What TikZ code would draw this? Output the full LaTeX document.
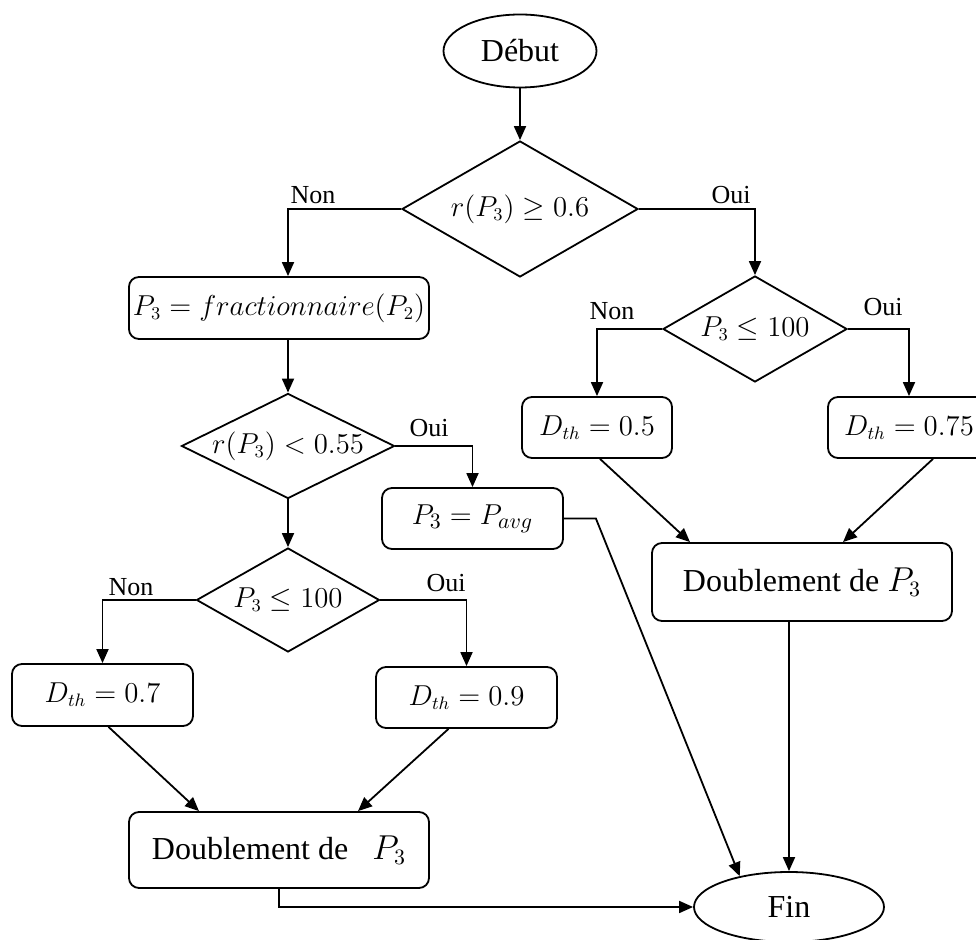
\documentclass[tikz,border=0pt]{standalone}
\usepackage{fontspec}
\setmainfont{Liberation Serif}
\usetikzlibrary{shapes.geometric,arrows.meta}

\begin{document}
\begin{tikzpicture}[x=0.5pt, y=-0.5pt,
    boite/.style={rectangle, rounded corners=5pt, draw, line width=0.9pt, inner sep=2pt, font=\fontsize{13.5}{16}\selectfont},
    grand/.style={font=\fontsize{16}{19}\selectfont},
    test/.style={diamond, aspect=2, draw, line width=0.9pt, inner sep=0pt, font=\fontsize{13.5}{16}\selectfont},
    borne/.style={ellipse, draw, line width=0.9pt, inner sep=0pt, font=\fontsize{16}{19}\selectfont},
    choix/.style={inner sep=0pt, font=\fontsize{13}{15}\selectfont},
    fleche/.style={-{Triangle[length=7pt,width=6pt]}, line width=0.9pt}]
    \useasboundingbox (0,0) rectangle (976,940);

    \node[borne, minimum width=76.5pt, minimum height=36.5pt] (debut) at (520,51) {Début};
    \node[test, minimum width=118pt, minimum height=68pt] (t1) at (520,209) {$r(P_3) \geq 0.6$};
    \node[boite, minimum width=147pt, minimum height=31pt] (frac) at (279,308) {$P_3 = fractionnaire(P_2)$};
    \node[test, minimum width=106.5pt, minimum height=52.5pt] (t3) at (288,446) {$r(P_3) < 0.55$};
    \node[boite, minimum width=90.5pt, minimum height=30.5pt, font=\fontsize{15}{18}\selectfont] (pavg) at (472.5,518.5) {$P_3 = P_{avg}$};
    \node[test, minimum width=91.5pt, minimum height=52pt] (t4) at (288,600) {$P_3 \leq 100$};
    \node[boite, minimum width=90.5pt, minimum height=31pt] (d07) at (102.5,695) {$D_{th} = 0.7$};
    \node[boite, minimum width=90.5pt, minimum height=30.5pt] (d09) at (466.5,697.5) {$D_{th} = 0.9$};
    \node[boite, grand, minimum width=150pt, minimum height=38pt] (doubg) at (279,850) {Doublement de \ \ $P_3$};
    \node[test, minimum width=92pt, minimum height=53pt] (t2) at (755,329) {$P_3 \leq 100$};
    \node[boite, minimum width=75pt, minimum height=30.5pt] (d05) at (597,427.5) {$D_{th} = 0.5$};
    \node[boite, minimum width=81pt, minimum height=30.5pt] (d075) at (909,427.5) {$D_{th} = 0.75$};
    \node[boite, grand, minimum width=150pt, minimum height=39pt] (doubd) at (802,582) {Doublement de $P_3$};
    \node[borne, minimum width=95pt, minimum height=35pt] (fin) at (789,907) {Fin};

    % 矢印を引く
    \draw[fleche] (debut) -- (t1);
    \draw[fleche] (t1.west) -| (frac.north -| t3.north);
    \draw[fleche] (t1.east) -| (t2.north);
    \draw[fleche] (frac.south -| t3.north) -- (t3.north);
    \draw[fleche] (t3.east) -| (pavg.north);
    \draw[fleche] (t3.south) -- (t4.north);
    \draw[fleche] (t4.west) -| (d07.north);
    \draw[fleche] (t4.east) -| (d09.north);
    \draw[fleche] ([xshift=3pt]d07.south) -- ([xshift=-40pt]doubg.north);
    \draw[fleche] ([xshift=-9pt]d09.south) -- ([xshift=39.5pt]doubg.north);
    \draw[fleche] (t2.west) -| (d05.north);
    \draw[fleche] (t2.east) -| (d075.north);
    \draw[fleche] ([xshift=1.5pt]d05.south) -- ([xshift=-56pt]doubd.north);
    \draw[fleche] ([xshift=12pt]d075.south) -- ([xshift=20.5pt]doubd.north);

    % Fin へ
    \draw[fleche] (doubd.south -| fin.north) -- (fin.north);
    \draw[fleche] (pavg.east) -- ++(16pt,0) -- (fin.148);
    \draw[fleche] (doubg.south) |- (fin.west);

    % Oui / Non
    \node[choix] (non1) at (313,195) {Non};
    \node[choix] (oui1) at (731,195) {Oui};
    \node[choix] (non2) at (612,311) {Non};
    \node[choix] (oui2) at (883,307) {Oui};
    \node[choix] (oui3) at (429,428) {Oui};
    \node[choix] (non4) at (131,587) {Non};
    \node[choix] (oui4) at (446,583) {Oui};

\end{tikzpicture}
\end{document}
